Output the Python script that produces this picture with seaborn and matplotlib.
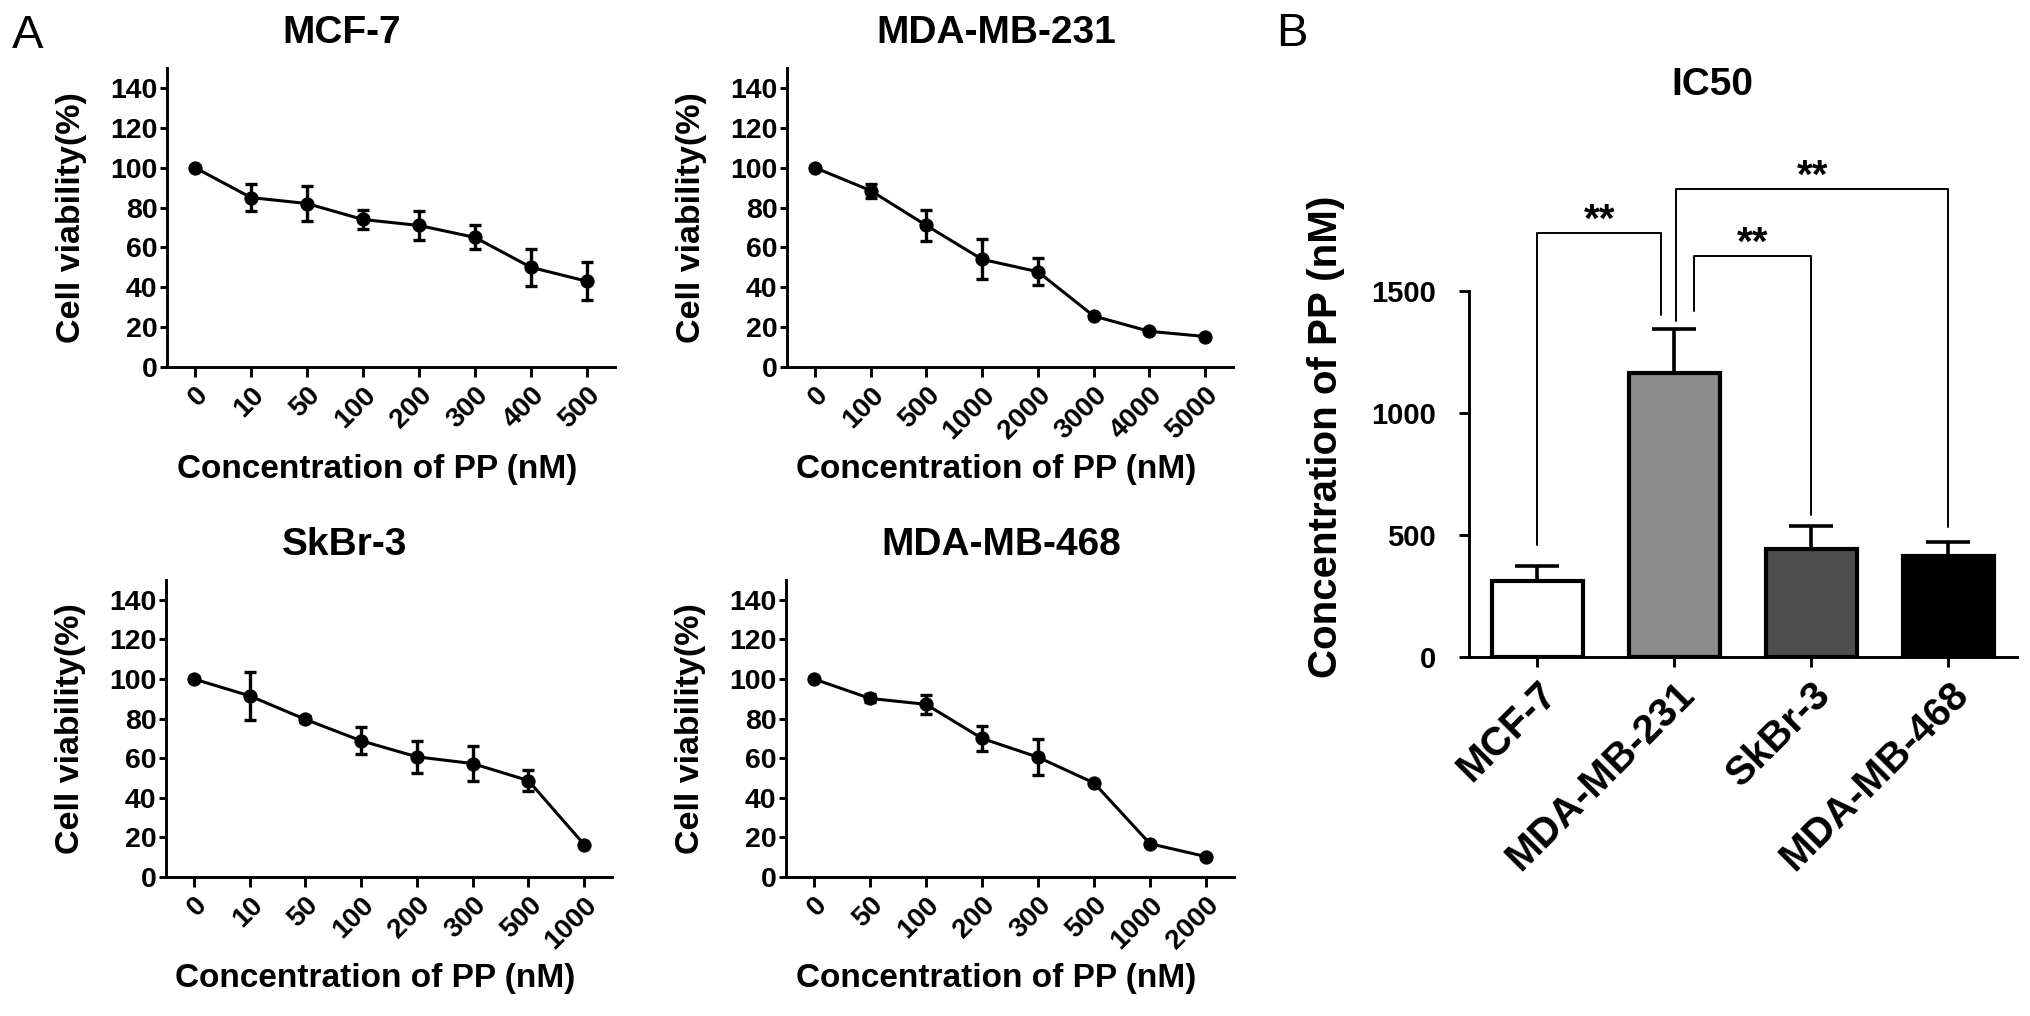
import numpy as np
import pandas as pd
import matplotlib
matplotlib.use('Agg')
import matplotlib.pyplot as plt
import seaborn as sns

# cell viability (%), mean and SD
mcf7_conc = ['0', '10', '50', '100', '200', '300', '400', '500']
mcf7_mean = [100, 85, 82, 74, 71, 65, 50, 43]
mcf7_sd = [0, 6.7, 9, 4.6, 7.5, 6, 9.2, 9.6]

mb231_conc = ['0', '100', '500', '1000', '2000', '3000', '4000', '5000']
mb231_mean = [100, 88.5, 71, 54, 47.8, 25.6, 17.9, 15.3]
mb231_sd = [0, 3.5, 8, 10, 6.8, 0, 0, 0]

skbr3_conc = ['0', '10', '50', '100', '200', '300', '500', '1000']
skbr3_mean = [100, 91.5, 79.6, 68.8, 60.7, 57.3, 48.7, 16.4]
skbr3_sd = [0, 12, 1.5, 6.8, 8.2, 8.8, 5.3, 0]

mb468_conc = ['0', '50', '100', '200', '300', '500', '1000', '2000']
mb468_mean = [100, 90.2, 87.2, 70, 60.5, 47.5, 16.8, 10.3]
mb468_sd = [0, 2, 4.9, 6.5, 9, 0, 0, 0]

# IC50 (nM)
cells = ['MCF-7', 'MDA-MB-231', 'SkBr-3', 'MDA-MB-468']
ic50 = [310, 1165, 441, 414]
ic50_sd = [62, 180, 97, 58]
bar_colors = ['#ffffff', '#8c8c8c', '#4d4d4d', '#000000']

sns.set_theme(style='ticks', rc={
    'axes.edgecolor': 'black', 'axes.labelcolor': 'black', 'text.color': 'black',
    'xtick.color': 'black', 'ytick.color': 'black', 'axes.linewidth': 2.1,
    'xtick.major.width': 2.1, 'ytick.major.width': 2.1,
})
plt.rcParams['font.family'] = ['Liberation Sans', 'DejaVu Sans']
plt.rcParams['font.weight'] = 'bold'
plt.rcParams['axes.labelweight'] = 'bold'
plt.rcParams['axes.titleweight'] = 'bold'

W, H = 2031, 1016
fig = plt.figure(figsize=(W / 100, H / 100), dpi=100)


def px_axes(left, top, right, bottom):
    return fig.add_axes([left / W, 1 - bottom / H, (right - left) / W, (bottom - top) / H])


def viability_panel(ax, conc, mean, sd, title, title_x):
    df = pd.DataFrame({'pos': np.arange(len(conc)), 'viability': mean, 'sd': sd})
    err = df[df['sd'] > 0]
    ax.errorbar(err['pos'], err['viability'], yerr=err['sd'], fmt='none',
                ecolor='black', elinewidth=2.4, capsize=4.5, capthick=2.4, zorder=2)
    sns.lineplot(data=df, x='pos', y='viability', ax=ax, color='black', lw=2.2,
                 marker='o', markersize=9.5, markeredgecolor='black', zorder=3)
    ax.set_xlim(-0.5, len(conc) - 0.5)
    ax.set_ylim(0, 150)
    ax.set_yticks(range(0, 141, 20))
    ax.set_xticks(range(len(conc)))
    ax.set_xticklabels(conc, rotation=45, ha='right', va='top', rotation_mode='anchor')
    ax.tick_params(axis='y', labelsize=20.5, length=5, pad=2)
    ax.tick_params(axis='x', labelsize=20, length=7, pad=4)
    ax.set_xlabel('Concentration of PP (nM)', fontsize=24)
    ax.set_ylabel('Cell viability(%)', fontsize=24.5)
    ax.xaxis.set_label_coords(0.47, -0.29)
    ax.yaxis.set_label_coords(-0.179, 0.5)
    ax.set_title(title, fontsize=28, pad=18, x=title_x)
    sns.despine(ax=ax)


ax1 = px_axes(167, 68, 615, 367)
ax2 = px_axes(787, 68, 1233, 367)
ax3 = px_axes(166, 580, 612, 877)
ax4 = px_axes(786, 580, 1234, 877)
viability_panel(ax1, mcf7_conc, mcf7_mean, mcf7_sd, 'MCF-7', 0.39)
viability_panel(ax2, mb231_conc, mb231_mean, mb231_sd, 'MDA-MB-231', 0.47)
viability_panel(ax3, skbr3_conc, skbr3_mean, skbr3_sd, 'SkBr-3', 0.40)
viability_panel(ax4, mb468_conc, mb468_mean, mb468_sd, 'MDA-MB-468', 0.48)

# panel B: IC50 bars
axb = px_axes(1469, 145, 2017, 657)
df_b = pd.DataFrame({'cell': cells, 'ic50': ic50})
sns.barplot(data=df_b, x='cell', y='ic50', hue='cell', palette=bar_colors, saturation=1,
            width=0.67, edgecolor='black', linewidth=3.0, errorbar=None, legend=False,
            ax=axb, zorder=2)
axb.errorbar(range(len(cells)), ic50, yerr=[np.zeros(len(cells)), ic50_sd], fmt='none',
             ecolor='black', elinewidth=2.6, capsize=16, capthick=2.6, zorder=1)
axb.set_xlim(-0.5, 3.5)
axb.set_ylim(0, 2100)
axb.set_yticks([0, 500, 1000, 1500])
axb.spines['left'].set_bounds(0, 1500)
axb.tick_params(axis='y', labelsize=21, length=7, pad=17)
axb.tick_params(axis='x', labelsize=29, length=7, pad=6)
axb.set_xticks(range(len(cells)))
axb.set_xticklabels(cells, rotation=45, ha='right', va='top', rotation_mode='anchor')
axb.set_xlabel('')
axb.set_ylabel('Concentration of PP (nM)', fontsize=29)
axb.yaxis.set_label_coords(-0.226, 0.43)
axb.set_title('IC50', fontsize=28, pad=36, x=0.445)
sns.despine(ax=axb)

# significance brackets: (left x, right x, top, left leg end, right leg end)
brackets = [
    (0.0, 0.90, 1739, 459, 1404),
    (1.14, 2.0, 1643, 1419, 582),
    (1.01, 3.0, 1921, 1378, 533),
]
for x0, x1, top, y0, y1 in brackets:
    axb.plot([x0, x0, x1, x1], [y0, top, top, y1], color='black', lw=1.4,
             clip_on=False, zorder=3)
    axb.text((x0 + x1) / 2, top + 5, '**', ha='center', va='baseline',
             fontsize=29, fontweight='bold')

fig.text(12 / W, 1 - 48 / H, 'A', fontsize=34, fontweight='normal', va='baseline')
fig.text(1276 / W, 1 - 46 / H, 'B', fontsize=34, fontweight='normal', va='baseline')

fig.savefig('out.png', dpi=100)
